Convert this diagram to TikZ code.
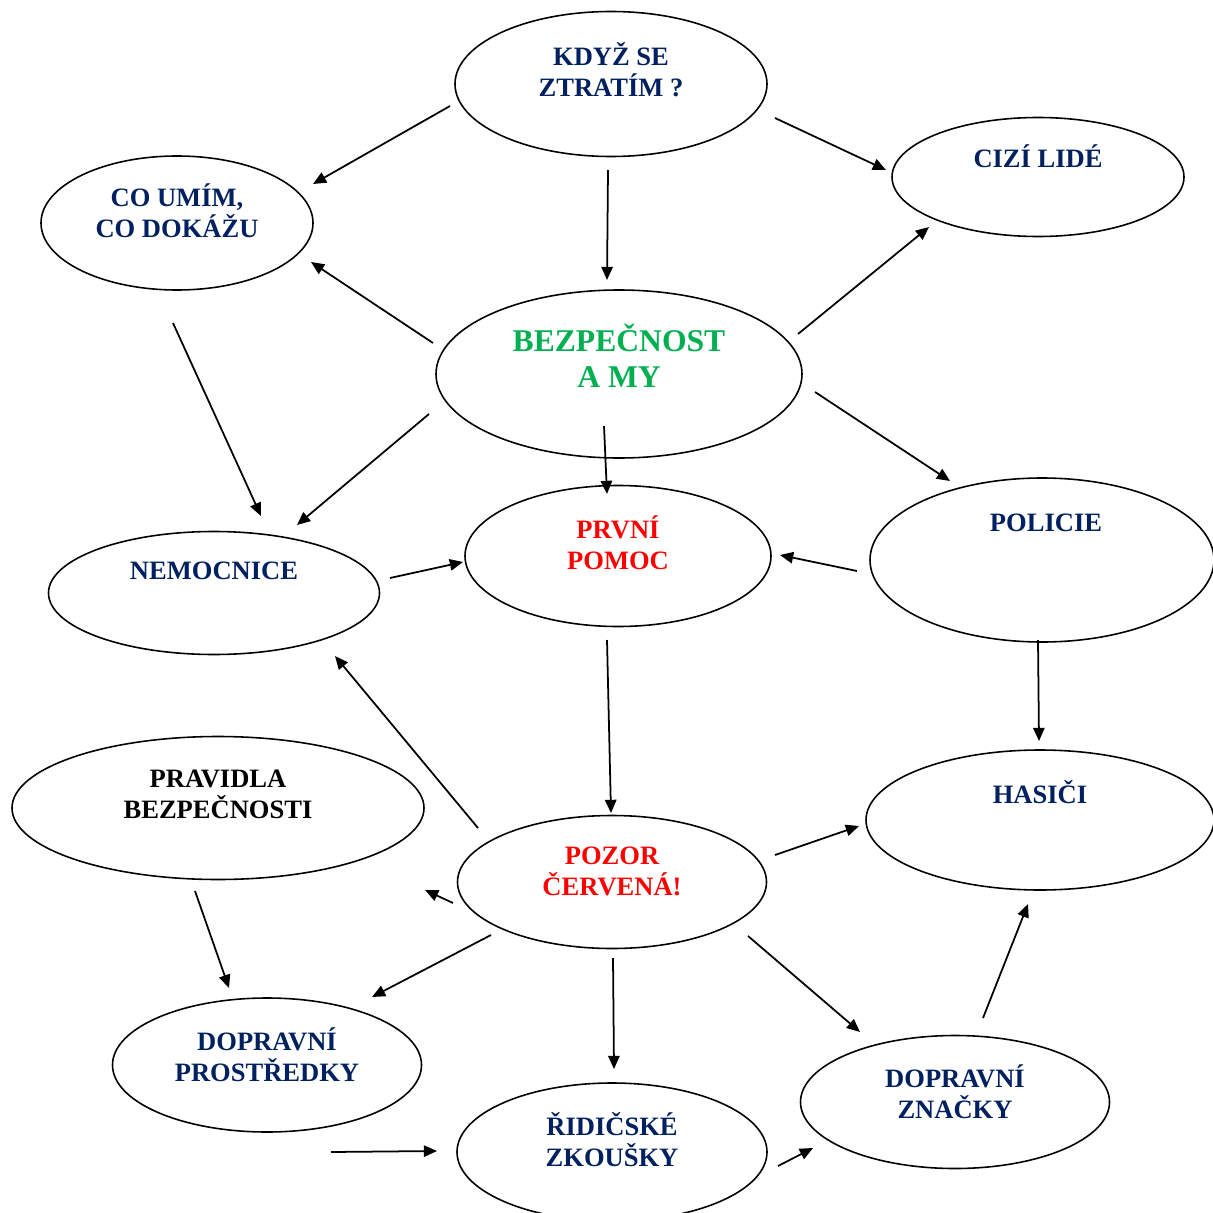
\documentclass[tikz,border=0pt]{standalone}
\usepackage{fontspec}
\setmainfont{Liberation Serif}
\usepackage{tikz}
\usetikzlibrary{calc,arrows.meta,shapes.geometric}
\definecolor{navy}{RGB}{0,32,96}
\definecolor{leaf}{RGB}{0,176,80}

\begin{document}
\begin{tikzpicture}[x=0.02cm, y=-0.02cm, >={Triangle[length=7.5pt,width=6.5pt]}, font=\fontsize{15.1}{17.6}\selectfont\bfseries]
		\tikzset{bubble/.style 2 args={draw, ellipse, line width=0.9pt, inner sep=0pt, minimum width=#1*0.02cm, minimum height=#2*0.02cm},
			caption/.style={align=center, text=navy, inner sep=0pt},
			arr/.style={->, line width=1pt}}
		\useasboundingbox (0,0) rectangle (1213,1213);
		% bubbles
		\node[bubble={312}{145}] (kdyz) at (611,84) {};
		\node[bubble={292}{119}] (cizi) at (1038,177) {};
		\node[bubble={272}{134}] (umim) at (177,223) {};
		\node[bubble={366}{168}] (my) at (619,374) {};
		\node[bubble={331}{123}] (nemoc) at (214,593) {};
		\node[bubble={306}{141}] (pomoc) at (618,556) {};
		\node[bubble={344}{164}] (polic) at (1042,560) {};
		\node[bubble={412}{143}] (pravid) at (218,808) {};
		\node[bubble={348}{140}] (hasic) at (1040,820) {};
		\node[bubble={309}{133}] (pozor) at (612,882) {};
		\node[bubble={309}{134}] (prostr) at (267,1065) {};
		\node[bubble={310}{138}] (zkous) at (612,1152) {};
		\node[bubble={309}{133}] (znac) at (955,1102) {};
		% texts
		\node[caption] (kdyz-t) at ($(kdyz)+(0,-14)$) {KDYŽ SE\\ZTRATÍM ?};
		\node[caption] (cizi-t) at ($(cizi)+(0,-21)$) {CIZÍ LIDÉ};
		\node[caption] (umim-t) at ($(umim)+(0,-12)$) {CO UMÍM,\\CO DOKÁŽU};
		\node[caption, text=leaf, font=\fontsize{18}{20.5}\selectfont\bfseries] (my-t) at ($(my)+(0,-18)$) {BEZPEČNOST\\A MY};
		\node[caption] (nemoc-t) at ($(nemoc)+(0,-22)$) {NEMOCNICE};
		\node[caption, text=red] (pomoc-t) at ($(pomoc)+(0,-13)$) {PRVNÍ\\POMOC};
		\node[caption] (polic-t) at ($(polic)+(4,-37)$) {POLICIE};
		\node[caption, text=black] (pravid-t) at ($(pravid)+(0,-14)$) {PRAVIDLA\\BEZPEČNOSTI};
		\node[caption] (hasic-t) at ($(hasic)+(0,-28)$) {HASIČI};
		\node[caption, text=red] (pozor-t) at ($(pozor)+(0,-11)$) {POZOR\\ČERVENÁ!};
		\node[caption] (prostr-t) at ($(prostr)+(0,-10)$) {DOPRAVNÍ\\PROSTŘEDKY};
		\node[caption] (zkous-t) at ($(zkous)+(0,-12)$) {ŘIDIČSKÉ\\ZKOUŠKY};
		\node[caption] (znac-t) at ($(znac)+(0,-10)$) {DOPRAVNÍ\\ZNAČKY};
		\coordinate (void) at (425,890);
		% arrows
		\draw[arr] ($(kdyz)+(-161,22)$) -- ($(umim)+(136,-39)$);
		\draw[arr] ($(kdyz)+(-3,86)$) -- ($(my)+(-12,-94)$);
		\draw[arr] ($(kdyz)+(164,34)$) -- ($(cizi)+(-152,-7)$);
		\draw[arr] ($(my)+(-186,-31)$) -- ($(umim)+(134,39)$);
		\draw[arr] ($(my)+(179,-40)$) -- ($(cizi)+(-109,50)$);
		\draw[arr] ($(umim)+(-4,100)$) -- ($(nemoc)+(47,-77)$);
		\draw[arr] ($(my)+(-190,40)$) -- ($(nemoc)+(83,-68)$);
		\draw[arr] ($(my)+(-15,52)$) -- ($(pomoc)+(-11,-62)$);
		\draw[arr] ($(my)+(196,18)$) -- ($(polic)+(-92,-79)$);
		\draw[arr] ($(nemoc)+(176,-15)$) -- ($(pomoc)+(-155,6)$);
		\draw[arr] ($(polic)+(-185,11)$) -- ($(pomoc)+(162,-1)$);
		\draw[arr] ($(pomoc)+(-11,84)$) -- ($(pozor)+(-1,-69)$);
		\draw[arr] ($(polic)+(-4,80)$) -- ($(hasic)+(-1,-79)$);
		\draw[arr] ($(pozor)+(-134,-54)$) -- ($(nemoc)+(121,63)$);
		\draw[arr] ($(pozor)+(-159,21)$) -- (void);
		\draw[arr] ($(pozor)+(163,-27)$) -- ($(hasic)+(-181,6)$);
		\draw[arr] ($(pravid)+(-23,83)$) -- ($(prostr)+(-38,-77)$);
		\draw[arr] ($(pozor)+(-121,53)$) -- ($(prostr)+(105,-68)$);
		\draw[arr] ($(pozor)+(1,76)$) -- ($(zkous)+(2,-83)$);
		\draw[arr] ($(pozor)+(136,54)$) -- ($(znac)+(-95,-70)$);
		\draw[arr] ($(znac)+(28,-84)$) -- ($(hasic)+(-12,84)$);
		\draw[arr] ($(prostr)+(64,87)$) -- ($(zkous)+(-175,-1)$);
		\draw[arr] ($(zkous)+(166,14)$) -- ($(znac)+(-142,46)$);
	\end{tikzpicture}
\end{document}
